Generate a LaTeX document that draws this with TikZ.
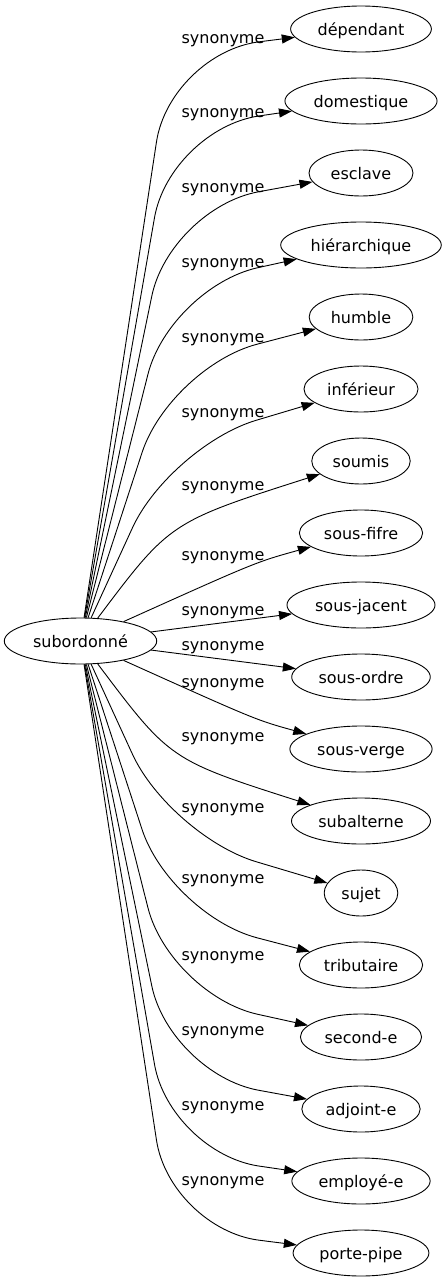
\documentclass[tikz,border=0pt]{standalone}
\usepackage{fontspec}
\setmainfont{DejaVu Sans}
\usepackage{tikz}
\usetikzlibrary{shapes.geometric,arrows.meta}

\begin{document}
\begin{tikzpicture}[x=1pt, y=-1pt,
    mot/.style={ellipse, draw, line width=0.9pt, minimum height=46pt, inner xsep=6.5pt, inner ysep=2pt, text height=12pt, text depth=0pt, font=\fontsize{16}{19}\selectfont},
    lien/.style={-{Triangle[length=13pt,width=9pt]}, line width=0.9pt},
    syn/.style={anchor=base, font=\fontsize{16}{19}\selectfont}]
            \useasboundingbox (0,0) rectangle (447,1283);
            \node[mot] (subordonne) at (80.5,641) {subordonné};
            \node[mot] (dependant) at (361,29) {dépendant};
            \node[mot] (domestique) at (361,101) {domestique};
            \node[mot] (esclave) at (361,173) {esclave};
            \node[mot] (hierarchique) at (361,245) {hiérarchique};
            \node[mot] (humble) at (361,317) {humble};
            \node[mot] (inferieur) at (361,389) {inférieur};
            \node[mot] (soumis) at (361,461) {soumis};
            \node[mot] (sousfifre) at (361,533) {sous-fifre};
            \node[mot] (sousjacent) at (361,605) {sous-jacent};
            \node[mot] (sousordre) at (361,677) {sous-ordre};
            \node[mot] (sousverge) at (361,749) {sous-verge};
            \node[mot] (subalterne) at (361,821) {subalterne};
            \node[mot] (sujet) at (361,893) {sujet};
            \node[mot] (tributaire) at (361,965) {tributaire};
            \node[mot] (seconde) at (361,1037) {second-e};
            \node[mot] (adjointe) at (361,1109) {adjoint-e};
            \node[mot] (employee) at (361,1181) {employé-e};
            \node[mot] (portepipe) at (361,1253) {porte-pipe};
            \draw[lien, rounded corners=90pt] (subordonne) -- (170,53) -- (dependant);
            \draw[lien, rounded corners=90pt] (subordonne) -- (170,129) -- (domestique);
            \draw[lien, rounded corners=90pt] (subordonne) -- (170,208) -- (esclave);
            \draw[lien, rounded corners=90pt] (subordonne) -- (170,287) -- (hierarchique);
            \draw[lien, rounded corners=90pt] (subordonne) -- (170,367) -- (humble);
            \draw[lien, rounded corners=90pt] (subordonne) -- (170,446) -- (inferieur);
            \draw[lien] (subordonne) .. controls (170,522) .. (soumis);
            \draw[lien] (subordonne) .. controls (256,562) .. (sousfifre);
            \draw[lien] (subordonne) -- (sousjacent);
            \draw[lien] (subordonne) -- (sousordre);
            \draw[lien] (subordonne) .. controls (256,720) .. (sousverge);
            \draw[lien] (subordonne) .. controls (170,760) .. (subalterne);
            \draw[lien, rounded corners=90pt] (subordonne) -- (170,836) -- (sujet);
            \draw[lien, rounded corners=90pt] (subordonne) -- (170,915) -- (tributaire);
            \draw[lien, rounded corners=90pt] (subordonne) -- (170,995) -- (seconde);
            \draw[lien, rounded corners=90pt] (subordonne) -- (170,1074) -- (adjointe);
            \draw[lien, rounded corners=90pt] (subordonne) -- (170,1153) -- (employee);
            \draw[lien, rounded corners=90pt] (subordonne) -- (170,1229) -- (portepipe);
            \node[syn] (s1) at (223,43) {synonyme};
            \node[syn] (s2) at (223,117) {synonyme};
            \node[syn] (s3) at (223,192) {synonyme};
            \node[syn] (s4) at (223,267) {synonyme};
            \node[syn] (s5) at (223,342) {synonyme};
            \node[syn] (s6) at (223,417) {synonyme};
            \node[syn] (s7) at (223,490) {synonyme};
            \node[syn] (s8) at (223,560) {synonyme};
            \node[syn] (s9) at (223,615) {synonyme};
            \node[syn] (s10) at (223,650) {synonyme};
            \node[syn] (s11) at (223,687) {synonyme};
            \node[syn] (s12) at (223,741) {synonyme};
            \node[syn] (s13) at (223,812) {synonyme};
            \node[syn] (s14) at (223,883) {synonyme};
            \node[syn] (s15) at (223,960) {synonyme};
            \node[syn] (s16) at (223,1035) {synonyme};
            \node[syn] (s17) at (223,1110) {synonyme};
            \node[syn] (s18) at (223,1185) {synonyme};
        \end{tikzpicture}
\end{document}
